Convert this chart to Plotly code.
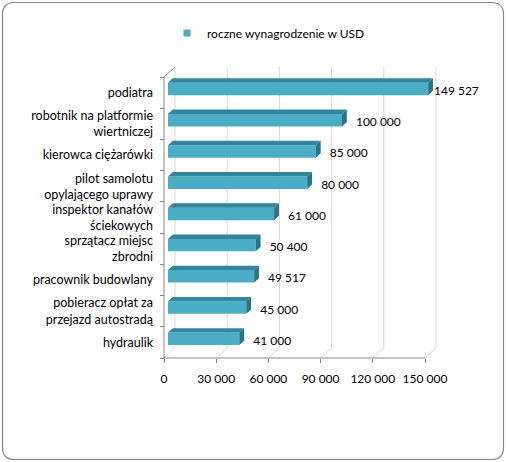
import plotly.graph_objects as go

categories = ["podiatra", "robotnik na platformie<br>wiertniczej", "kierowca ciężarówki",
              "pilot samolotu<br>opylającego uprawy", "inspektor kanałów<br>ściekowych",
              "sprzątacz miejsc<br>zbrodni", "pracownik budowlany",
              "pobieracz opłat za<br>przejazd autostradą", "hydraulik"]
values = [149527, 100000, 85000, 80000, 61000, 50400, 49517, 45000, 41000]
value_labels = ["149 527", "100 000", "85 000", "80 000", "61 000", "50 400", "49 517", "45 000", "41 000"]
tick_values = [0, 30000, 60000, 90000, 120000, 150000]
tick_labels = ["0", "30 000", "60 000", "90 000", "120 000", "150 000"]
series_name = "roczne wynagrodzenie w USD"

W, H = 506, 462
# pixel geometry of the 3D box
PX0, PXMAX = 164, 425          # front x of 0 and 150000
PY_BOT, PY_TOP = 358, 77        # front plane bottom/top
DEPTH_X, DEPTH_Y = 11, 10       # px offset of back wall
PAD = 4
XMAXV = 150000
k = (PXMAX - PX0) / XMAXV       # px per unit
n = len(categories)
band = (PY_BOT - PY_TOP) / n    # px per category

plot_l, plot_r = PX0 - PAD, 444
plot_t, plot_b = PY_TOP - DEPTH_Y - PAD, PY_BOT + PAD
x_range = [-(PX0 - plot_l) / k, (plot_r - PX0) / k]
y_range = [-0.5 - PAD / band, n - 0.5 + (DEPTH_Y + PAD) / band]

DX = DEPTH_X / k        # depth in data units
DY = DEPTH_Y / band
f0, f1 = 0.36, 0.80     # bar depth slice
bw = 0.40               # bar width (category units)

FRONT = "#4BACC6"
TOP = "#31859C"
SIDE = "#2B7487"
AXIS = "#868686"
GRID = "#D9D9D9"

ypos = [n - 1 - i for i in range(n)]   # podiatra at top

fig = go.Figure()

# bars (front faces)
b0 = f0 * DX
fig.add_trace(go.Bar(
    y=[y + f0 * DY for y in ypos], x=values, base=b0, orientation="h", width=bw,
    marker=dict(color=FRONT, line=dict(width=0)), showlegend=False, hoverinfo="skip"))

# top faces and side faces
ddx, ddy = (f1 - f0) * DX, (f1 - f0) * DY
tx, ty, sx, sy = [], [], [], []
for y, v in zip(ypos, values):
    yc = y + f0 * DY
    yt, yb = yc + bw / 2, yc - bw / 2
    tx += [b0, b0 + v, b0 + v + ddx, b0 + ddx, b0, None]
    ty += [yt, yt, yt + ddy, yt + ddy, yt, None]
    sx += [b0 + v, b0 + v, b0 + v + ddx, b0 + v + ddx, b0 + v, None]
    sy += [yb, yt, yt + ddy, yb + ddy, yb, None]
fig.add_trace(go.Scatter(x=tx, y=ty, fill="toself", mode="lines", fillcolor=TOP,
                         line=dict(width=0, color=TOP), showlegend=False, hoverinfo="skip"))
fig.add_trace(go.Scatter(x=sx, y=sy, fill="toself", mode="lines", fillcolor=SIDE,
                         line=dict(width=0, color=SIDE), showlegend=False, hoverinfo="skip"))

# value labels
lab_x = [min(v + b0 + 14 / k, 270 / k) for v in values]
lab_y = [y + f0 * DY - 3 / band for y in ypos]
fig.add_trace(go.Scatter(x=lab_x, y=lab_y, mode="text", text=value_labels,
                         textposition="middle right", cliponaxis=False,
                         textfont=dict(family="Lato", size=12, color="#000000"),
                         showlegend=False, hoverinfo="skip"))

# legend entry
fig.add_trace(go.Scatter(x=[None], y=[None], mode="markers", name=series_name,
                         marker=dict(symbol="square", size=7, color=FRONT)))

shapes = []
ybot, ytop = -0.5, n - 0.5
for tv in tick_values:
    shapes.append(dict(type="line", xref="x", yref="y", x0=tv + DX, x1=tv + DX,
                       y0=ybot + DY, y1=ytop + DY, line=dict(color=GRID, width=1), layer="below"))
    shapes.append(dict(type="line", xref="x", yref="y", x0=tv, x1=tv + DX,
                       y0=ybot, y1=ybot + DY, line=dict(color=GRID, width=1), layer="below"))
shapes.append(dict(type="line", xref="x", yref="y", x0=0, x1=DX, y0=ytop, y1=ytop + DY,
                   line=dict(color=AXIS, width=1), layer="below"))
shapes.append(dict(type="line", xref="x", yref="y", x0=0, x1=0, y0=ybot, y1=ytop,
                   line=dict(color=AXIS, width=1), layer="below"))
shapes.append(dict(type="line", xref="x", yref="y", x0=0, x1=XMAXV, y0=ybot, y1=ybot,
                   line=dict(color=AXIS, width=1), layer="below"))

# outer rounded border (paper coords)
pw, ph = plot_r - plot_l, plot_b - plot_t
def px(xp): return (xp - plot_l) / pw
def py(yp): return (plot_b - yp) / ph
x0b, x1b, y0b, y1b, r = 2.5, 503.5, 2.5, 459.5, 12
path = (f"M {px(x0b + r)},{py(y0b)} L {px(x1b - r)},{py(y0b)} "
        f"Q {px(x1b)},{py(y0b)} {px(x1b)},{py(y0b + r)} L {px(x1b)},{py(y1b - r)} "
        f"Q {px(x1b)},{py(y1b)} {px(x1b - r)},{py(y1b)} L {px(x0b + r)},{py(y1b)} "
        f"Q {px(x0b)},{py(y1b)} {px(x0b)},{py(y1b - r)} L {px(x0b)},{py(y0b + r)} "
        f"Q {px(x0b)},{py(y0b)} {px(x0b + r)},{py(y0b)} Z")
shapes.append(dict(type="path", xref="paper", yref="paper", path=path,
                   line=dict(color=AXIS, width=1.2), layer="above"))

fig.update_layout(
    width=W, height=H,
    margin=dict(l=plot_l, r=W - plot_r, t=plot_t, b=H - plot_b, pad=0),
    paper_bgcolor="white", plot_bgcolor="rgba(0,0,0,0)",
    font=dict(family="Lato", size=12, color="#000000"),
    shapes=shapes,
    showlegend=True,
    legend=dict(orientation="h", x=px(167), y=py(33), xanchor="left", yanchor="middle",
                font=dict(family="Lato", size=12, color="#000000"),
                bgcolor="rgba(0,0,0,0)"),
    xaxis=dict(range=x_range, anchor="free", position=PAD / ph, showgrid=False,
               zeroline=False, showline=False, ticks="outside", ticklen=4,
               tickcolor=AXIS, tickvals=tick_values, ticktext=tick_labels,
               tickfont=dict(family="Lato", size=12), ticklabelstandoff=6,
               fixedrange=True),
    yaxis=dict(range=y_range, anchor="free", position=PAD / pw, showgrid=False,
               zeroline=False, showline=False, ticks="", tickvals=ypos,
               ticktext=categories, tickfont=dict(family="Lato", size=12.5),
               ticklabelstandoff=11,
               minor=dict(tickvals=[i - 0.5 for i in range(n + 1)], ticks="outside",
                          ticklen=4, tickcolor=AXIS, showgrid=False),
               fixedrange=True),
)

fig.write_html("out.html")
